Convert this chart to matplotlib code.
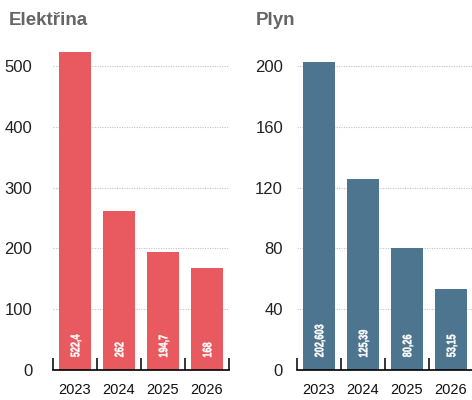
import matplotlib.pyplot as plt
from matplotlib.font_manager import FontProperties
from matplotlib.patches import PathPatch
from matplotlib.textpath import TextPath
from matplotlib.transforms import Affine2D, ScaledTranslation
from matplotlib.ticker import FixedLocator

years = ["2023", "2024", "2025", "2026"]
elektrina = [522.4, 262, 194.7, 168]
elektrina_labels = ["522,4", "262", "194,7", "168"]
plyn = [202.603, 125.39, 80.26, 53.15]
plyn_labels = ["202,603", "125,39", "80,26", "53,15"]

plt.rcParams["font.family"] = ["Liberation Sans", "DejaVu Sans"]

W, H = 472, 400
fig = plt.figure(figsize=(W / 100, H / 100), dpi=100)
label_font = FontProperties(family="Liberation Sans", weight="bold")

# pixel size of the condensed bar labels: digit height and digit advance
ref = TextPath((0, 0), "0000000000", size=10, prop=label_font).get_extents()
SY = 8.8 / ref.height
SX = 5.0 / (ref.width / 10)

def px_axes(x0, x1, y_top, y_bot):
    return fig.add_axes([x0 / W, 1 - y_bot / H, (x1 - x0) / W, (y_bot - y_top) / H])

def narrow_label(ax, x, text):
    # condensed, rotated value label drawn as a path (no narrow font installed)
    path = TextPath((0, 0), text, size=10, prop=label_font)
    bb = path.get_extents()
    tr = (Affine2D().translate(-bb.x0, -(ref.y0 + ref.y1) / 2).scale(SX, SY)
          .rotate_deg(90).translate(0, 13) + ScaledTranslation(x, 0, ax.transData))
    ax.add_artist(PathPatch(path, transform=tr, facecolor="white", edgecolor="white",
                            lw=0.3, zorder=3))

def panel(ax, vals, labels, color, ymax, yticks, pad):
    x = range(len(vals))
    ax.bar(x, vals, width=0.73, color=color, zorder=2)
    ax.set_xlim(-0.5, len(vals) - 0.5)
    ax.set_ylim(0, ymax)
    for s in ["top", "right", "left"]:
        ax.spines[s].set_visible(False)
    ax.spines["bottom"].set_linewidth(1.2)
    ax.set_yticks(yticks)
    ax.set_yticklabels([str(t) for t in yticks])
    ax.tick_params(axis="y", length=0, pad=pad, labelsize=12, labelcolor="#222222")
    ax.set_xticks(list(x))
    ax.set_xticklabels(years)
    ax.tick_params(axis="x", which="major", length=0, pad=9, labelsize=10.5, labelcolor="#111111")
    ax.xaxis.set_minor_locator(FixedLocator([i - 0.5 for i in range(len(vals) + 1)]))
    ax.tick_params(axis="x", which="minor", direction="in", length=9, width=1.1, color="black")
    for t in yticks[1:]:
        ax.axhline(t, color="#c4c4c4", lw=0.8, ls=(0, (1, 1.2)), zorder=1)
    for i, lab in enumerate(labels):
        narrow_label(ax, i, lab)

ax1 = px_axes(53, 229, 35.6, 370)
panel(ax1, elektrina, elektrina_labels, "#e85a60", 550, [0, 100, 200, 300, 400, 500], 15)
ax2 = px_axes(297, 473, 35.6, 370)
panel(ax2, plyn, plyn_labels, "#4e7590", 220, [0, 40, 80, 120, 160, 200], 10)

fig.text(9 / W, 1 - 25 / H, "Elektřina", fontsize=13.5, fontweight="bold", color="#666666")
fig.text(256 / W, 1 - 25 / H, "Plyn", fontsize=13.5, fontweight="bold", color="#666666")

fig.savefig("out.png", dpi=100)
